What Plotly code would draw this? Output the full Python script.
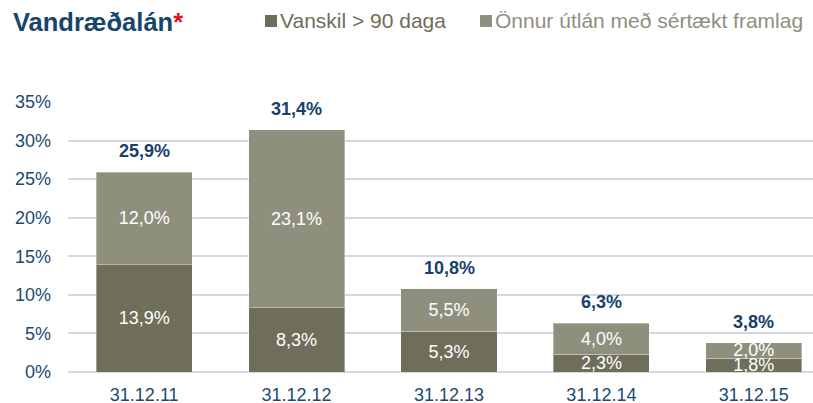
import plotly.graph_objects as go

dagsetningar = ["31.12.11", "31.12.12", "31.12.13", "31.12.14", "31.12.15"]
vanskil = [13.9, 8.3, 5.3, 2.3, 1.8]
onnur = [12.0, 23.1, 5.5, 4.0, 2.0]
samtals = [25.9, 31.4, 10.8, 6.3, 3.8]
y_tikk = [0, 5, 10, 15, 20, 25, 30, 35]

DOKKUR = "#6e6e5a"
LJOS = "#8f8f7e"
BLAR = "#1b4a70"
GRID = "#d3d9e1"

# pixel -> paper hnit (plot svæði: x 68..813, y 102..372)
L, R, T, B = 68, 813, 102, 372


def px(x):
    return (x - L) / (R - L)


def py(y):
    return (B - y) / (B - T)


def fmt(v):
    return f"{v:.1f}".replace(".", ",") + "%"


fig = go.Figure()

fig.add_trace(go.Bar(
    x=dagsetningar, y=vanskil, name="Vanskil > 90 daga",
    marker=dict(color=DOKKUR, line=dict(color="rgba(255,255,255,0.35)", width=1)),
    text=[fmt(v) for v in vanskil], textposition="inside",
    insidetextanchor="middle", constraintext="none",
    insidetextfont=dict(color="white", size=18, family="Liberation Sans, Arial"),
))
fig.add_trace(go.Bar(
    x=dagsetningar, y=onnur, name="Önnur útlán með sértækt framlag",
    marker=dict(color=LJOS, line=dict(color="rgba(255,255,255,0.35)", width=1)),
    text=[fmt(v) for v in onnur], textposition="inside",
    insidetextanchor="middle", constraintext="none",
    insidetextfont=dict(color="white", size=18, family="Liberation Sans, Arial"),
))

# samtölur ofan á súlum
for d, s in zip(dagsetningar, samtals):
    fig.add_annotation(x=d, y=s, text=f"<b>{fmt(s)}</b>", showarrow=False,
                       yanchor="middle", yshift=21,
                       font=dict(size=18, color="#17406a", family="Liberation Sans, Arial"))

# titill
fig.add_annotation(xref="paper", yref="paper", x=px(11), y=py(22),
                   xanchor="left", yanchor="middle", showarrow=False,
                   text="<b>Vandræðalán<span style='color:#e8101a'>*</span></b>",
                   font=dict(size=25.5, color="#17456b", family="Liberation Sans, Arial"))

# skýringar
for x0, texti, litur in [(265, "Vanskil > 90 daga", DOKKUR),
                         (480, "Önnur útlán með sértækt framlag", LJOS)]:
    fig.add_shape(type="rect", xref="paper", yref="paper",
                  x0=px(x0), x1=px(x0 + 12), y0=py(27), y1=py(15),
                  fillcolor=litur, line=dict(width=0))
    fig.add_annotation(xref="paper", yref="paper", x=px(x0 + 13), y=py(21),
                       xanchor="left", yanchor="middle", showarrow=False,
                       text=texti,
                       font=dict(size=21, color=litur, family="Liberation Sans, Arial"))

fig.update_layout(
    barmode="stack",
    bargap=0.37,
    width=813, height=403,
    margin=dict(l=L, r=813 - R, t=T, b=403 - B, pad=0),
    plot_bgcolor="white", paper_bgcolor="white",
    showlegend=False,
    font=dict(family="Liberation Sans, Arial", color=BLAR),
    xaxis=dict(range=[-0.5, -0.5 + (R - L) / 152.4], showgrid=False,
               tickfont=dict(size=18, color=BLAR), ticks="", ticklabelstandoff=10,
               showline=False, zeroline=False, automargin=False),
    yaxis=dict(range=[0, 35], tickvals=y_tikk, ticktext=[f"{v}%" for v in y_tikk],
               tickfont=dict(size=18, color=BLAR), gridcolor=GRID, gridwidth=1.5,
               zeroline=True, zerolinecolor=GRID, zerolinewidth=1.5,
               ticklabelstandoff=16, showline=False, automargin=False),
)

# fjarlægja sjálfgefna 8px spássíu á body svo myndin passi í gluggann
fig.write_html("out.html", config={"displayModeBar": False},
               post_script="document.body.style.margin='0';")
